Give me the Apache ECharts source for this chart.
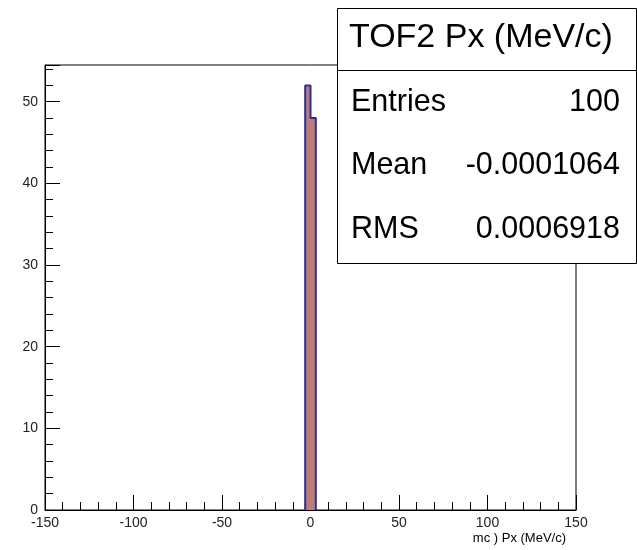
<!DOCTYPE html>
<html>
<head>
<meta charset="utf-8">
<script src="https://cdn.jsdelivr.net/npm/echarts@6/dist/echarts.min.js"></script>
<style>
  html, body { margin: 0; padding: 0; background: #fff; }
  #chart { width: 637px; height: 550px; }
</style>
</head>
<body>
<div id="chart"></div>
<script>
// histogram bins (edges) and counts
const binEdges = [-3, 0, 3];
const counts = [52, 48];
const xTicks = [-150, -100, -50, 0, 50, 100, 150];
const yTicks = [0, 10, 20, 30, 40, 50];
const statLabels = ['Entries', 'Mean', 'RMS'];
const statValues = ['100', '-0.0001064', '0.0006918'];

// step outline of the histogram
const outline = [[binEdges[0], 0]];
counts.forEach((c, i) => {
  outline.push([binEdges[i], c]);
  outline.push([binEdges[i + 1], c]);
});
outline.push([binEdges[binEdges.length - 1], 0]);

const chart = echarts.init(document.getElementById('chart'));
const font = 'Liberation Sans, Arial, sans-serif';

const statsGraphics = [
  { type: 'rect', shape: { x: 337.5, y: 8.5, width: 299, height: 255 },
    style: { fill: '#fff', stroke: '#000', lineWidth: 1 }, z: 10 },
  { type: 'line', shape: { x1: 337.5, y1: 70.5, x2: 637, y2: 70.5 },
    style: { stroke: '#000', lineWidth: 1 }, z: 11 },
  { type: 'text', x: 349, y: 38, z: 11,
    style: { text: 'TOF2 Px (MeV/c)', font: '34px ' + font, fill: '#000', verticalAlign: 'middle' } }
];
const rowY = [103, 166, 230];
statLabels.forEach((lab, i) => {
  statsGraphics.push({ type: 'text', x: 351, y: rowY[i], z: 11,
    style: { text: lab, font: '30.5px ' + font, fill: '#000', verticalAlign: 'middle' } });
  statsGraphics.push({ type: 'text', x: 620, y: rowY[i], z: 11,
    style: { text: statValues[i], font: '30.5px ' + font, fill: '#000', align: 'right', verticalAlign: 'middle' } });
});
statsGraphics.push({ type: 'text', x: 566, y: 538, z: 11,
  style: { text: 'mc ) Px (MeV/c)', font: '13px ' + font, fill: '#000', align: 'right', verticalAlign: 'middle' } });

chart.setOption({
  animation: false,
  grid: { left: 45, right: 61, top: 65, bottom: 40, show: true, borderColor: '#000', borderWidth: 1, backgroundColor: 'transparent' },
  xAxis: {
    type: 'value', min: xTicks[0], max: xTicks[xTicks.length - 1], interval: 50,
    axisLine: { onZero: false, lineStyle: { color: '#000', width: 1 } },
    axisTick: { inside: true, length: 15, lineStyle: { color: '#000' } },
    minorTick: { show: true, splitNumber: 5, length: 8, lineStyle: { color: '#000' } },
    splitLine: { show: false },
    axisLabel: { color: '#222', fontSize: 14, fontFamily: font, margin: 6 }
  },
  yAxis: {
    type: 'value', min: yTicks[0], max: 54.5, interval: 10,
    axisLine: { show: true, onZero: false, lineStyle: { color: '#000', width: 1 } },
    axisTick: { show: true, inside: true, length: 15, lineStyle: { color: '#000' } },
    minorTick: { show: true, splitNumber: 5, length: 8, lineStyle: { color: '#000' } },
    splitLine: { show: false },
    axisLabel: { color: '#222', fontSize: 14, fontFamily: font, margin: 7, showMaxLabel: false }
  },
  series: [{
    type: 'line',
    data: outline,
    symbol: 'none',
    lineStyle: { color: '#2b2ba6', width: 2 },
    areaStyle: { color: '#bd7d6f', opacity: 1, origin: 0 },
    z: 3
  }],
  graphic: statsGraphics
});
</script>
</body>
</html>
